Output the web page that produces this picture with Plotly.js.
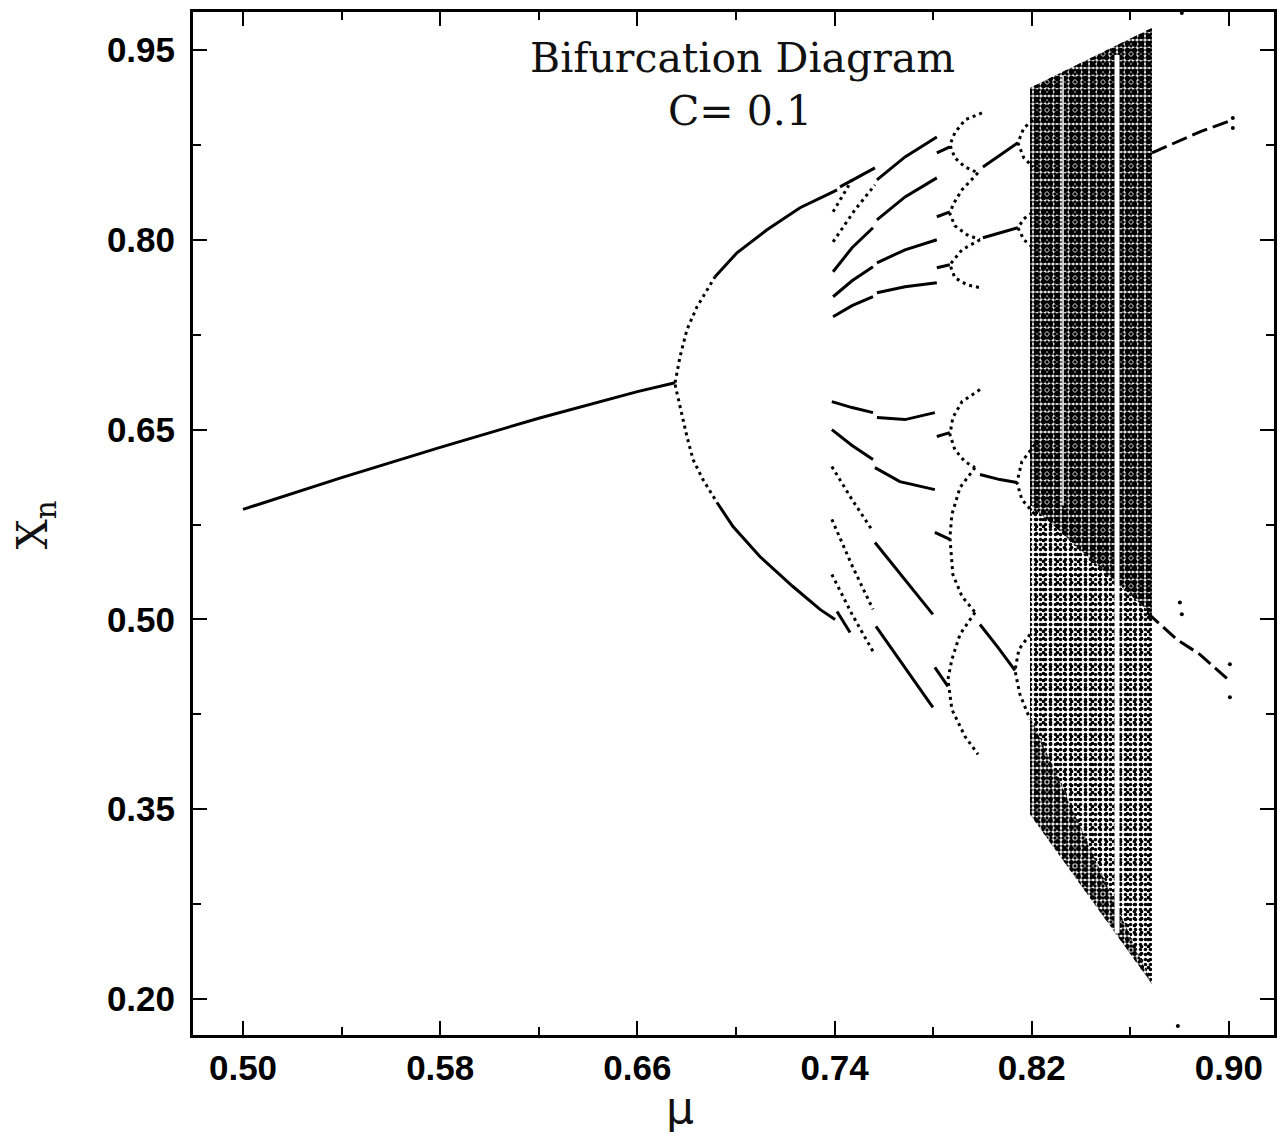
<!DOCTYPE html>
<html>
<head>
<meta charset="utf-8">
<script src="https://cdn.plot.ly/plotly-3.0.1.min.js"></script>
<style>html,body{margin:0;padding:0;background:#fff;}#chart{width:1281px;height:1144px;}</style>
</head>
<body>
<div id="chart"></div>
<script>
// ---------------- data (mu, x_n) ----------------
const fixedMu = [0.500, 0.540, 0.580, 0.620, 0.660, 0.6753];
const fixedX  = [0.587, 0.612, 0.636, 0.659, 0.680, 0.687];

// period-2 branches: sparse (dotted) near the bifurcation, then dense
const p2DotMu = [[0.6753,0.6773,0.6801,0.6842,0.6915],[0.6753,0.6765,0.6781,0.6801,0.6826,0.6866,0.6923]];
const p2DotX  = [[0.6871,0.7076,0.7289,0.7471,0.7708],[0.6855,0.6753,0.6634,0.6445,0.6263,0.6105,0.5924]];
const p2SolidMu = [[0.6915,0.7004,0.7126,0.7260,0.7394,0.7410],[0.6923,0.6988,0.7097,0.7231,0.7341,0.7402]];
const p2SolidX  = [[0.7708,0.7897,0.8079,0.8253,0.8379,0.8395],[0.5924,0.5734,0.5497,0.5260,0.5079,0.5000]];

// periodic window branches between 0.74 and 0.78
const winSolidMu = [
  [0.7422,0.7564],
  [0.7572,0.7686,0.7815],
  [0.7394,0.7471,0.7556],
  [0.7572,0.7686,0.7815],
  [0.7394,0.7471,0.7556],
  [0.7572,0.7686,0.7815],
  [0.7394,0.7471,0.7556],
  [0.7572,0.7686,0.7815],
  [0.7389,0.7471,0.7556],
  [0.7572,0.7686,0.7807],
  [0.7389,0.7471,0.7556],
  [0.7564,0.7665,0.7807],
  [0.7564,0.7686,0.7799],
  [0.7568,0.7686,0.7799],
  [0.7410,0.7463]
];
const winSolidX = [
  [0.8418,0.8568],
  [0.8474,0.8655,0.8813],
  [0.7747,0.7937,0.8095],
  [0.8158,0.8339,0.8489],
  [0.7550,0.7676,0.7787],
  [0.7818,0.7921,0.8000],
  [0.7392,0.7479,0.7550],
  [0.7582,0.7629,0.7660],
  [0.6721,0.6674,0.6634],
  [0.6595,0.6579,0.6634],
  [0.6500,0.6374,0.6263],
  [0.6200,0.6089,0.6026],
  [0.5608,0.5316,0.5040],
  [0.4945,0.4621,0.4305],
  [0.5063,0.4897]
];
const winDotMu = [
  [0.7394,0.7471],
  [0.7394,0.7483,0.7564],
  [0.7389,0.7471,0.7556],
  [0.7389,0.7471,0.7556],
  [0.7389,0.7471,0.7556]
];
const winDotX = [
  [0.8221,0.8474],
  [0.7984,0.8237,0.8434],
  [0.6208,0.5947,0.5695],
  [0.5790,0.5426,0.5079],
  [0.5355,0.5040,0.4747]
];

// short branch pieces near 0.78
const dashMu = [[0.7815,0.7868],[0.7815,0.7868],[0.7815,0.7868],[0.7815,0.7868],[0.7807,0.7868],[0.7807,0.7860]];
const dashX  = [[0.8687,0.8734],[0.8182,0.8221],[0.7779,0.7803],[0.6445,0.6476],[0.5687,0.5632],[0.4621,0.4471]];

// bubbles between 0.786 and 0.80
const bubbleMu = [
  [0.7998,0.7929,0.7888,0.7868,0.7888,0.7929,0.7982],
  [0.7982,0.7917,0.7880,0.7868,0.7888,0.7937,0.7990],
  [0.7990,0.7917,0.7868,0.7888,0.7937,0.7990],
  [0.7990,0.7917,0.7880,0.7868,0.7888,0.7929,0.7970],
  [0.7970,0.7909,0.7876,0.7868,0.7880,0.7917,0.7970],
  [0.7970,0.7909,0.7876,0.7860,0.7876,0.7929,0.7982]
];
const bubbleX = [
  [0.9003,0.8947,0.8845,0.8750,0.8647,0.8576,0.8529],
  [0.8529,0.8395,0.8276,0.8205,0.8111,0.8040,0.8000],
  [0.8000,0.7921,0.7803,0.7700,0.7645,0.7621],
  [0.6816,0.6721,0.6595,0.6461,0.6342,0.6247,0.6200],
  [0.6200,0.6042,0.5829,0.5648,0.5355,0.5182,0.5056],
  [0.5056,0.4882,0.4684,0.4526,0.4289,0.4076,0.3934]
];

// branches leading into the chaotic band, and their loops
const linkMu = [[0.8002,0.8071,0.8144],[0.8002,0.8071,0.8144],[0.7990,0.8071,0.8140],[0.7990,0.8063,0.8132]];
const linkX  = [[0.8576,0.8671,0.8766],[0.8016,0.8055,0.8095],[0.6145,0.6105,0.6082],[0.4960,0.4779,0.4597]];
const loopMu = [[0.8205,0.8168,0.8144,0.8168,0.8205],[0.8201,0.8168,0.8144,0.8168,0.8201],[0.8213,0.8160,0.8140,0.8160,0.8213],[0.8193,0.8148,0.8132,0.8152,0.8193]];
const loopX  = [[0.8947,0.8884,0.8766,0.8647,0.8576],[0.8213,0.8166,0.8095,0.8000,0.7945],[0.6382,0.6247,0.6082,0.5947,0.5829],[0.4882,0.4763,0.4597,0.4408,0.4211]];

// chaotic band outlines
const chaosMu      = [0.8193, 0.8688, 0.8688, 0.8193];
const chaosX       = [0.9200, 0.9674, 0.2119, 0.3461];
const chaosDenseMu = [0.8193, 0.8688, 0.8688, 0.8193];
const chaosDenseX  = [0.9200, 0.9674, 0.5040, 0.5908];
const chaosEdgeMu  = [0.8193, 0.8688, 0.8193];
const chaosEdgeX   = [0.4234, 0.2119, 0.3461];
// periodic windows inside the chaos (empty stripes)
const windowMu = [[0.8546, 0.8546], [0.8327, 0.8327]];
const windowX  = [[0.946, 0.252], [0.930, 0.590]];

// period-2 branches after the chaotic band
const postMu = [[0.8688,0.8781,0.8882,0.9004],[0.8667,0.8789,0.8882,0.8996]];
const postX  = [[0.8687,0.8766,0.8853,0.8939],[0.5055,0.4842,0.4724,0.4526]];

// isolated points
const dotMu = [0.8801, 0.8809, 0.9004, 0.9004, 0.9016, 0.9016, 0.8793, 0.8809];
const dotX  = [0.5134, 0.5040, 0.4645, 0.4384, 0.8963, 0.8884, 0.1787, 0.9792];

// axis ticks
const xTicks = [0.50, 0.58, 0.66, 0.74, 0.82, 0.90];
const xTickText = ['0.50', '0.58', '0.66', '0.74', '0.82', '0.90'];
const xMinor = [0.54, 0.62, 0.70, 0.78, 0.86];
const yTicks = [0.20, 0.35, 0.50, 0.65, 0.80, 0.95];
const yTickText = ['0.20', '0.35', '0.50', '0.65', '0.80', '0.95'];
const yMinor = [0.275, 0.425, 0.575, 0.725, 0.875];

// ---------------- drawing ----------------
function joinSegs(segs) {
  const out = [];
  segs.forEach((s, i) => { if (i) out.push(null); s.forEach(v => out.push(v)); });
  return out;
}
const INK = '#000';
const solidLine = {color: INK, width: 3};
const dotLine = {color: INK, width: 3, dash: '3px,4px'};
const noLine = {width: 0, color: 'rgba(0,0,0,0)'};

function speckle(xs, ys, size, solidity, bg) {
  return {x: xs, y: ys, mode: 'lines', fill: 'toself', line: noLine, fillcolor: 'rgba(0,0,0,0)',
          fillpattern: {shape: '.', size: size, solidity: solidity, fgcolor: INK, bgcolor: bg}};
}

const traces = [
  speckle(chaosMu, chaosX, 5, 0.38, '#fff'),
  speckle(chaosMu, chaosX, 7, 0.22, 'rgba(0,0,0,0)'),
  speckle(chaosDenseMu, chaosDenseX, 4, 0.62, '#fff'),
  speckle(chaosDenseMu, chaosDenseX, 7, 0.45, 'rgba(0,0,0,0)'),
  speckle(chaosEdgeMu, chaosEdgeX, 4, 0.55, '#fff'),
  speckle(chaosEdgeMu, chaosEdgeX, 7, 0.40, 'rgba(0,0,0,0)'),
  {x: windowMu[0], y: windowX[0], mode: 'lines', line: {color: '#fff', width: 5}},
  {x: windowMu[1], y: windowX[1], mode: 'lines', line: {color: '#fff', width: 1.5}},
  {x: fixedMu, y: fixedX, mode: 'lines', line: solidLine},
  {x: joinSegs(p2DotMu), y: joinSegs(p2DotX), mode: 'lines', line: dotLine, connectgaps: false},
  {x: joinSegs(p2SolidMu), y: joinSegs(p2SolidX), mode: 'lines', line: solidLine, connectgaps: false},
  {x: joinSegs(winSolidMu), y: joinSegs(winSolidX), mode: 'lines', line: solidLine, connectgaps: false},
  {x: joinSegs(winDotMu), y: joinSegs(winDotX), mode: 'lines', line: dotLine, connectgaps: false},
  {x: joinSegs(dashMu), y: joinSegs(dashX), mode: 'lines', line: solidLine, connectgaps: false},
  {x: joinSegs(bubbleMu), y: joinSegs(bubbleX), mode: 'lines', line: dotLine, connectgaps: false},
  {x: joinSegs(linkMu), y: joinSegs(linkX), mode: 'lines', line: solidLine, connectgaps: false},
  {x: joinSegs(loopMu), y: joinSegs(loopX), mode: 'lines', line: dotLine, connectgaps: false},
  {x: joinSegs(postMu), y: joinSegs(postX), mode: 'lines', line: {color: INK, width: 3, dash: '16px,6px'}, connectgaps: false},
  {x: dotMu, y: dotX, mode: 'markers', marker: {color: INK, size: 4}}
];

const tickFont = {family: '"Liberation Sans", Arial, sans-serif', size: 35, weight: 'bold', color: INK};
const axisCommon = {
  showgrid: false, zeroline: false, showline: true, linewidth: 3, linecolor: INK,
  mirror: 'ticks', ticks: 'inside', ticklen: 14, tickwidth: 2, tickcolor: INK,
  tickfont: tickFont, fixedrange: true
};

const layout = {
  width: 1281, height: 1144,
  margin: {l: 193, r: 7, t: 12, b: 109},
  paper_bgcolor: '#fff', plot_bgcolor: '#fff',
  showlegend: false,
  xaxis: Object.assign({}, axisCommon, {
    range: [0.4797, 0.9183], tickmode: 'array', tickvals: xTicks, ticktext: xTickText,
    ticklabelstandoff: 0,
    minor: {tickmode: 'array', tickvals: xMinor, ticks: 'inside', ticklen: 8, tickwidth: 2, tickcolor: INK, showgrid: false}
  }),
  yaxis: Object.assign({}, axisCommon, {
    range: [0.1716, 0.98], tickmode: 'array', tickvals: yTicks, ticktext: yTickText,
    ticklabelstandoff: 8,
    minor: {tickmode: 'array', tickvals: yMinor, ticks: 'inside', ticklen: 8, tickwidth: 2, tickcolor: INK, showgrid: false}
  }),
  annotations: [
    {text: 'Bifurcation Diagram', xref: 'paper', yref: 'paper', x: 0.508, y: 0.9555,
     xanchor: 'center', yanchor: 'middle', showarrow: false,
     font: {family: '"DejaVu Serif", serif', size: 41, color: '#111'}},
    {text: 'C= 0.1', xref: 'paper', yref: 'paper', x: 0.506, y: 0.903,
     xanchor: 'center', yanchor: 'middle', showarrow: false,
     font: {family: '"DejaVu Serif", serif', size: 41, color: '#111'}},
    {text: 'μ', xref: 'paper', yref: 'paper', x: 0.4505, y: -0.071,
     xanchor: 'center', yanchor: 'middle', showarrow: false,
     font: {family: '"DejaVu Sans", sans-serif', size: 44, color: '#111'}},
    {text: 'X<sub>n</sub>', xref: 'paper', yref: 'paper', x: -0.146, y: 0.4985,
     xanchor: 'center', yanchor: 'middle', showarrow: false, textangle: -90,
     font: {family: '"DejaVu Serif", serif', size: 42, color: '#111'}}
  ]
};

Plotly.newPlot('chart', traces, layout, {displayModeBar: false, staticPlot: true});
</script>
</body>
</html>
